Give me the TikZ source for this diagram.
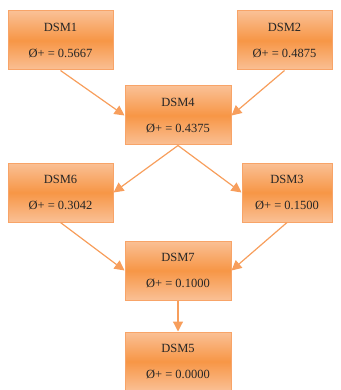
\documentclass[tikz,border=0pt]{standalone}
\usepackage{fontspec}
\setmainfont{Liberation Serif}
\usetikzlibrary{arrows.meta}
\definecolor{orgmid}{HTML}{F79646}
\definecolor{orglight}{HTML}{FAC095}
\definecolor{orgborder}{HTML}{F8A468}
\definecolor{orgline}{HTML}{F79E5C}
\tikzset{
  dsmbox/.style={draw=orgborder, line width=1pt, top color=orglight, bottom color=orglight, middle color=orgmid, shading angle=0, minimum height=59pt, align=center, font=\fontsize{12.5}{26}\selectfont, text=black!85, inner sep=0pt},
  flow/.style={draw=orgline, line width=1.2pt, -{Triangle[length=10pt,width=10pt]}}
}
\begin{document}
\begin{tikzpicture}[x=1pt,y=-1pt]
\useasboundingbox (0,0) rectangle (340,390);
\node[dsmbox, minimum width=105pt] (d1) at (60.5,40.5) {DSM1\\Ø+ = 0.5667};
\node[dsmbox, minimum width=95pt] (d2) at (284.5,40.5) {DSM2\\Ø+ = 0.4875};
\node[dsmbox, minimum width=106pt] (d4) at (178,115.5) {DSM4\\Ø+ = 0.4375};
\node[dsmbox, minimum width=105pt] (d6) at (60.5,192.5) {DSM6\\Ø+ = 0.3042};
\node[dsmbox, minimum width=90pt] (d3) at (287,192.5) {DSM3\\Ø+ = 0.1500};
\node[dsmbox, minimum width=106pt] (d7) at (178,270.5) {DSM7\\Ø+ = 0.1000};
\node[dsmbox, minimum width=106pt] (d5) at (178,361.5) {DSM5\\Ø+ = 0.0000};
\draw[flow] (d1.south) -- (d4.west);
\draw[flow] (d2.south) -- (d4.east);
\draw[flow] (d4.south) -- (d6.east);
\draw[flow] (d4.south) -- (d3.west);
\draw[flow] (d6.south) -- (d7.west);
\draw[flow] (d3.south) -- (d7.east);
\draw[flow] (d7.south) -- (d5.north);
\end{tikzpicture}
\end{document}
